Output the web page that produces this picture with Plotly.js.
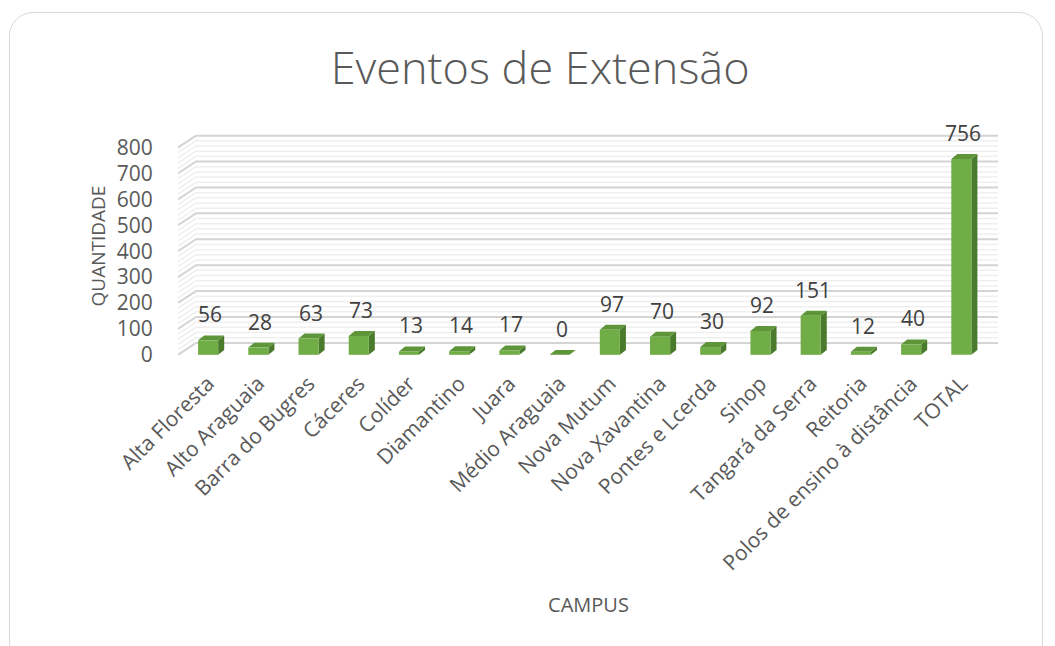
<!DOCTYPE html>
<html>
<head>
<meta charset="utf-8">
<script src="https://cdn.plot.ly/plotly-3.0.1.min.js"></script>
<style>
  body { margin: 0; background: #fff; }
  #card {
    position: absolute; left: 9px; top: 12px; width: 1034px; height: 660px;
    border: 1.5px solid #d9d9d9; border-radius: 24px; box-sizing: border-box;
  }
  #chart { position: absolute; left: 0; top: 0; width: 1055px; height: 646px; }
</style>
</head>
<body>
<div id="card"></div>
<div id="chart"></div>
<script>
// campus names and event counts
const campus = [
  "Alta Floresta", "Alto Araguaia", "Barra do Bugres", "Cáceres", "Colíder",
  "Diamantino", "Juara", "Médio Araguaia", "Nova Mutum", "Nova Xavantina",
  "Pontes e Lcerda", "Sinop", "Tangará da Serra", "Reitoria",
  "Polos de ensino à distância", "TOTAL"
];
const eventos = [56, 28, 63, 73, 13, 14, 17, 0, 97, 70, 30, 92, 151, 12, 40, 756];
const yTicks = [0, 100, 200, 300, 400, 500, 600, 700, 800];

const idx = campus.map((c, i) => i);

// fake 3d look
const barW = 0.4;
const barDx = 0.12, barDy = 19;      // bar depth
const wallDx = 0.358, wallDy = 46;   // back wall offset
const xLeft = -0.6, xRight = 15.73;

const shapes = [];

// back wall + left wall grid lines (minor first, then major)
for (let v = 0; v <= 800; v += 20) {
  const major = v % 100 === 0;
  shapes.push({
    type: "path", xref: "x", yref: "y", layer: "below",
    path: `M ${xLeft} ${v} L ${xLeft + wallDx} ${v + wallDy} L ${xRight} ${v + wallDy}`,
    line: { color: major ? "#d4d4d4" : "#efefef", width: major ? 2 : 1.5 }
  });
}

// side and top faces of every column
eventos.forEach((v, i) => {
  const r = i + barW / 2, l = i - barW / 2;
  shapes.push({
    type: "path", xref: "x", yref: "y", layer: "below",
    path: `M ${r} 0 L ${r + barDx} ${barDy} L ${r + barDx} ${v + barDy} L ${r} ${v} Z`,
    fillcolor: "#4a7a2b", line: { width: 0 }
  });
  shapes.push({
    type: "path", xref: "x", yref: "y", layer: "below",
    path: `M ${l} ${v} L ${l + barDx} ${v + barDy} L ${r + barDx} ${v + barDy} L ${r} ${v} Z`,
    fillcolor: "#5d9538", line: { width: 0 }
  });
});

// value labels
const labels = eventos.map((v, i) => ({
  x: i, y: v, xref: "x", yref: "y", text: String(v),
  showarrow: false, yshift: 26, xshift: 2,
  font: { family: "Open Sans", size: 21, color: "#404040" }
}));

const trace = {
  type: "bar",
  x: idx,
  y: eventos,
  width: barW,
  marker: { color: "#70ad47", line: { width: 0 } },
  hoverinfo: "x+y"
};

const layout = {
  width: 1055, height: 646,
  paper_bgcolor: "rgba(0,0,0,0)",
  plot_bgcolor: "rgba(0,0,0,0)",
  margin: { l: 178, r: 56, t: 132, b: 286 },
  font: { family: "Open Sans", color: "#595959" },
  title: {
    text: "Eventos de Extensão",
    font: { family: "Open Sans", size: 45, weight: 300, color: "#595959" },
    x: 0.512, xanchor: "center", y: 1 - 68 / 646, yanchor: "middle", yref: "container"
  },
  showlegend: false,
  xaxis: {
    range: [-0.6, 15.75],
    tickmode: "array", tickvals: idx, ticktext: campus,
    tickangle: -45,
    tickfont: { size: 21, color: "#595959" },
    ticks: "outside", ticklen: 2, tickcolor: "rgba(0,0,0,0)",
    showgrid: false, zeroline: false, showline: false,
    title: { text: "CAMPUS", font: { size: 20, color: "#595959" }, standoff: 22 }
  },
  yaxis: {
    range: [-20, 860],
    tickmode: "array", tickvals: yTicks,
    tickfont: { size: 21, color: "#595959" },
    ticks: "outside", ticklen: 20, tickcolor: "rgba(0,0,0,0)",
    showgrid: false, zeroline: false, showline: false,
    title: { text: "QUANTIDADE", font: { size: 19, color: "#595959" }, standoff: 6 }
  },
  shapes: shapes,
  annotations: labels
};

Plotly.newPlot("chart", [trace], layout, { displayModeBar: false });
</script>
</body>
</html>
